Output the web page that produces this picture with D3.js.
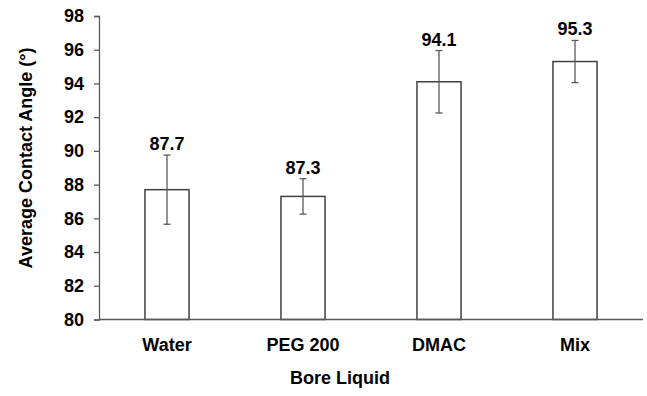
<!DOCTYPE html>
<html>
<head>
<meta charset="utf-8">
<script src="https://cdn.jsdelivr.net/npm/d3@7"></script>
<style>
  html, body { margin: 0; padding: 0; background: #fff; }
  svg { display: block; }
  text { font-family: "Liberation Sans", Arial, sans-serif; font-weight: bold; fill: #000; }
</style>
</head>
<body>
<svg id="chart" width="647" height="396"></svg>
<script>
// Bore liquid categories and measured contact angles
const categories = ["Water", "PEG 200", "DMAC", "Mix"];
const meanAngle = [87.7, 87.3, 94.1, 95.3];
const stdDev = [2.05, 1.05, 1.85, 1.25];
const yTicks = [80, 82, 84, 86, 88, 90, 92, 94, 96, 98];

const svg = d3.select("#chart");
const plotLeft = 99, plotRight = 643, plotTop = 16, plotBottom = 319.5;
const fontSize = 18;

const x = d3.scaleBand().domain(categories).range([plotLeft, plotRight]).paddingInner(0.676).paddingOuter(0.338);
const y = d3.scaleLinear().domain([80, 98]).range([plotBottom, plotTop]);

const axisColor = "#595959";

// Y axis
const yAxis = svg.append("g")
  .attr("transform", `translate(${plotLeft},0)`)
  .call(d3.axisLeft(y).tickValues(yTicks).tickSize(5).tickPadding(10).tickFormat(d3.format("d")));
yAxis.select(".domain").attr("stroke", axisColor).attr("stroke-width", 1.3);
yAxis.selectAll(".tick line").attr("stroke", axisColor).attr("stroke-width", 1.3);
yAxis.selectAll(".tick text").attr("font-size", fontSize).attr("font-family", "Liberation Sans, Arial, sans-serif").attr("font-weight", "bold").attr("fill", "#000");

// Bars
const bars = svg.append("g");
categories.forEach((c, i) => {
  bars.append("rect")
    .attr("x", x(c))
    .attr("y", y(meanAngle[i]))
    .attr("width", x.bandwidth())
    .attr("height", y(80) - y(meanAngle[i]))
    .attr("fill", "#fff")
    .attr("stroke", "#404040")
    .attr("stroke-width", 1.5);
});

// Error bars
const err = svg.append("g").attr("stroke", "#595959").attr("stroke-width", 1.3);
categories.forEach((c, i) => {
  const cx = x(c) + x.bandwidth() / 2;
  const hi = y(meanAngle[i] + stdDev[i]);
  const lo = y(meanAngle[i] - stdDev[i]);
  err.append("line").attr("x1", cx).attr("x2", cx).attr("y1", hi).attr("y2", lo);
  err.append("line").attr("x1", cx - 3.5).attr("x2", cx + 3.5).attr("y1", hi).attr("y2", hi);
  err.append("line").attr("x1", cx - 3.5).attr("x2", cx + 3.5).attr("y1", lo).attr("y2", lo);
});

// X axis baseline
svg.append("line")
  .attr("x1", plotLeft).attr("x2", plotRight)
  .attr("y1", y(80)).attr("y2", y(80))
  .attr("stroke", axisColor).attr("stroke-width", 1.3);

// Value labels above error bars
svg.append("g").selectAll("text")
  .data(categories)
  .join("text")
  .attr("x", c => x(c) + x.bandwidth() / 2)
  .attr("y", (c, i) => y(meanAngle[i] + stdDev[i]) - 5)
  .attr("text-anchor", "middle")
  .attr("font-size", fontSize)
  .text((c, i) => meanAngle[i].toFixed(1));

// Category labels
svg.append("g").selectAll("text")
  .data(categories)
  .join("text")
  .attr("x", c => x(c) + x.bandwidth() / 2)
  .attr("y", 351)
  .attr("text-anchor", "middle")
  .attr("font-size", fontSize)
  .text(c => c);

// Axis titles
svg.append("text")
  .attr("x", 340).attr("y", 384)
  .attr("text-anchor", "middle")
  .attr("font-size", fontSize)
  .text("Bore Liquid");

svg.append("text")
  .attr("transform", "translate(32,158) rotate(-90)")
  .attr("text-anchor", "middle")
  .attr("font-size", fontSize)
  .text("Average Contact Angle (°)");
</script>
</body>
</html>
